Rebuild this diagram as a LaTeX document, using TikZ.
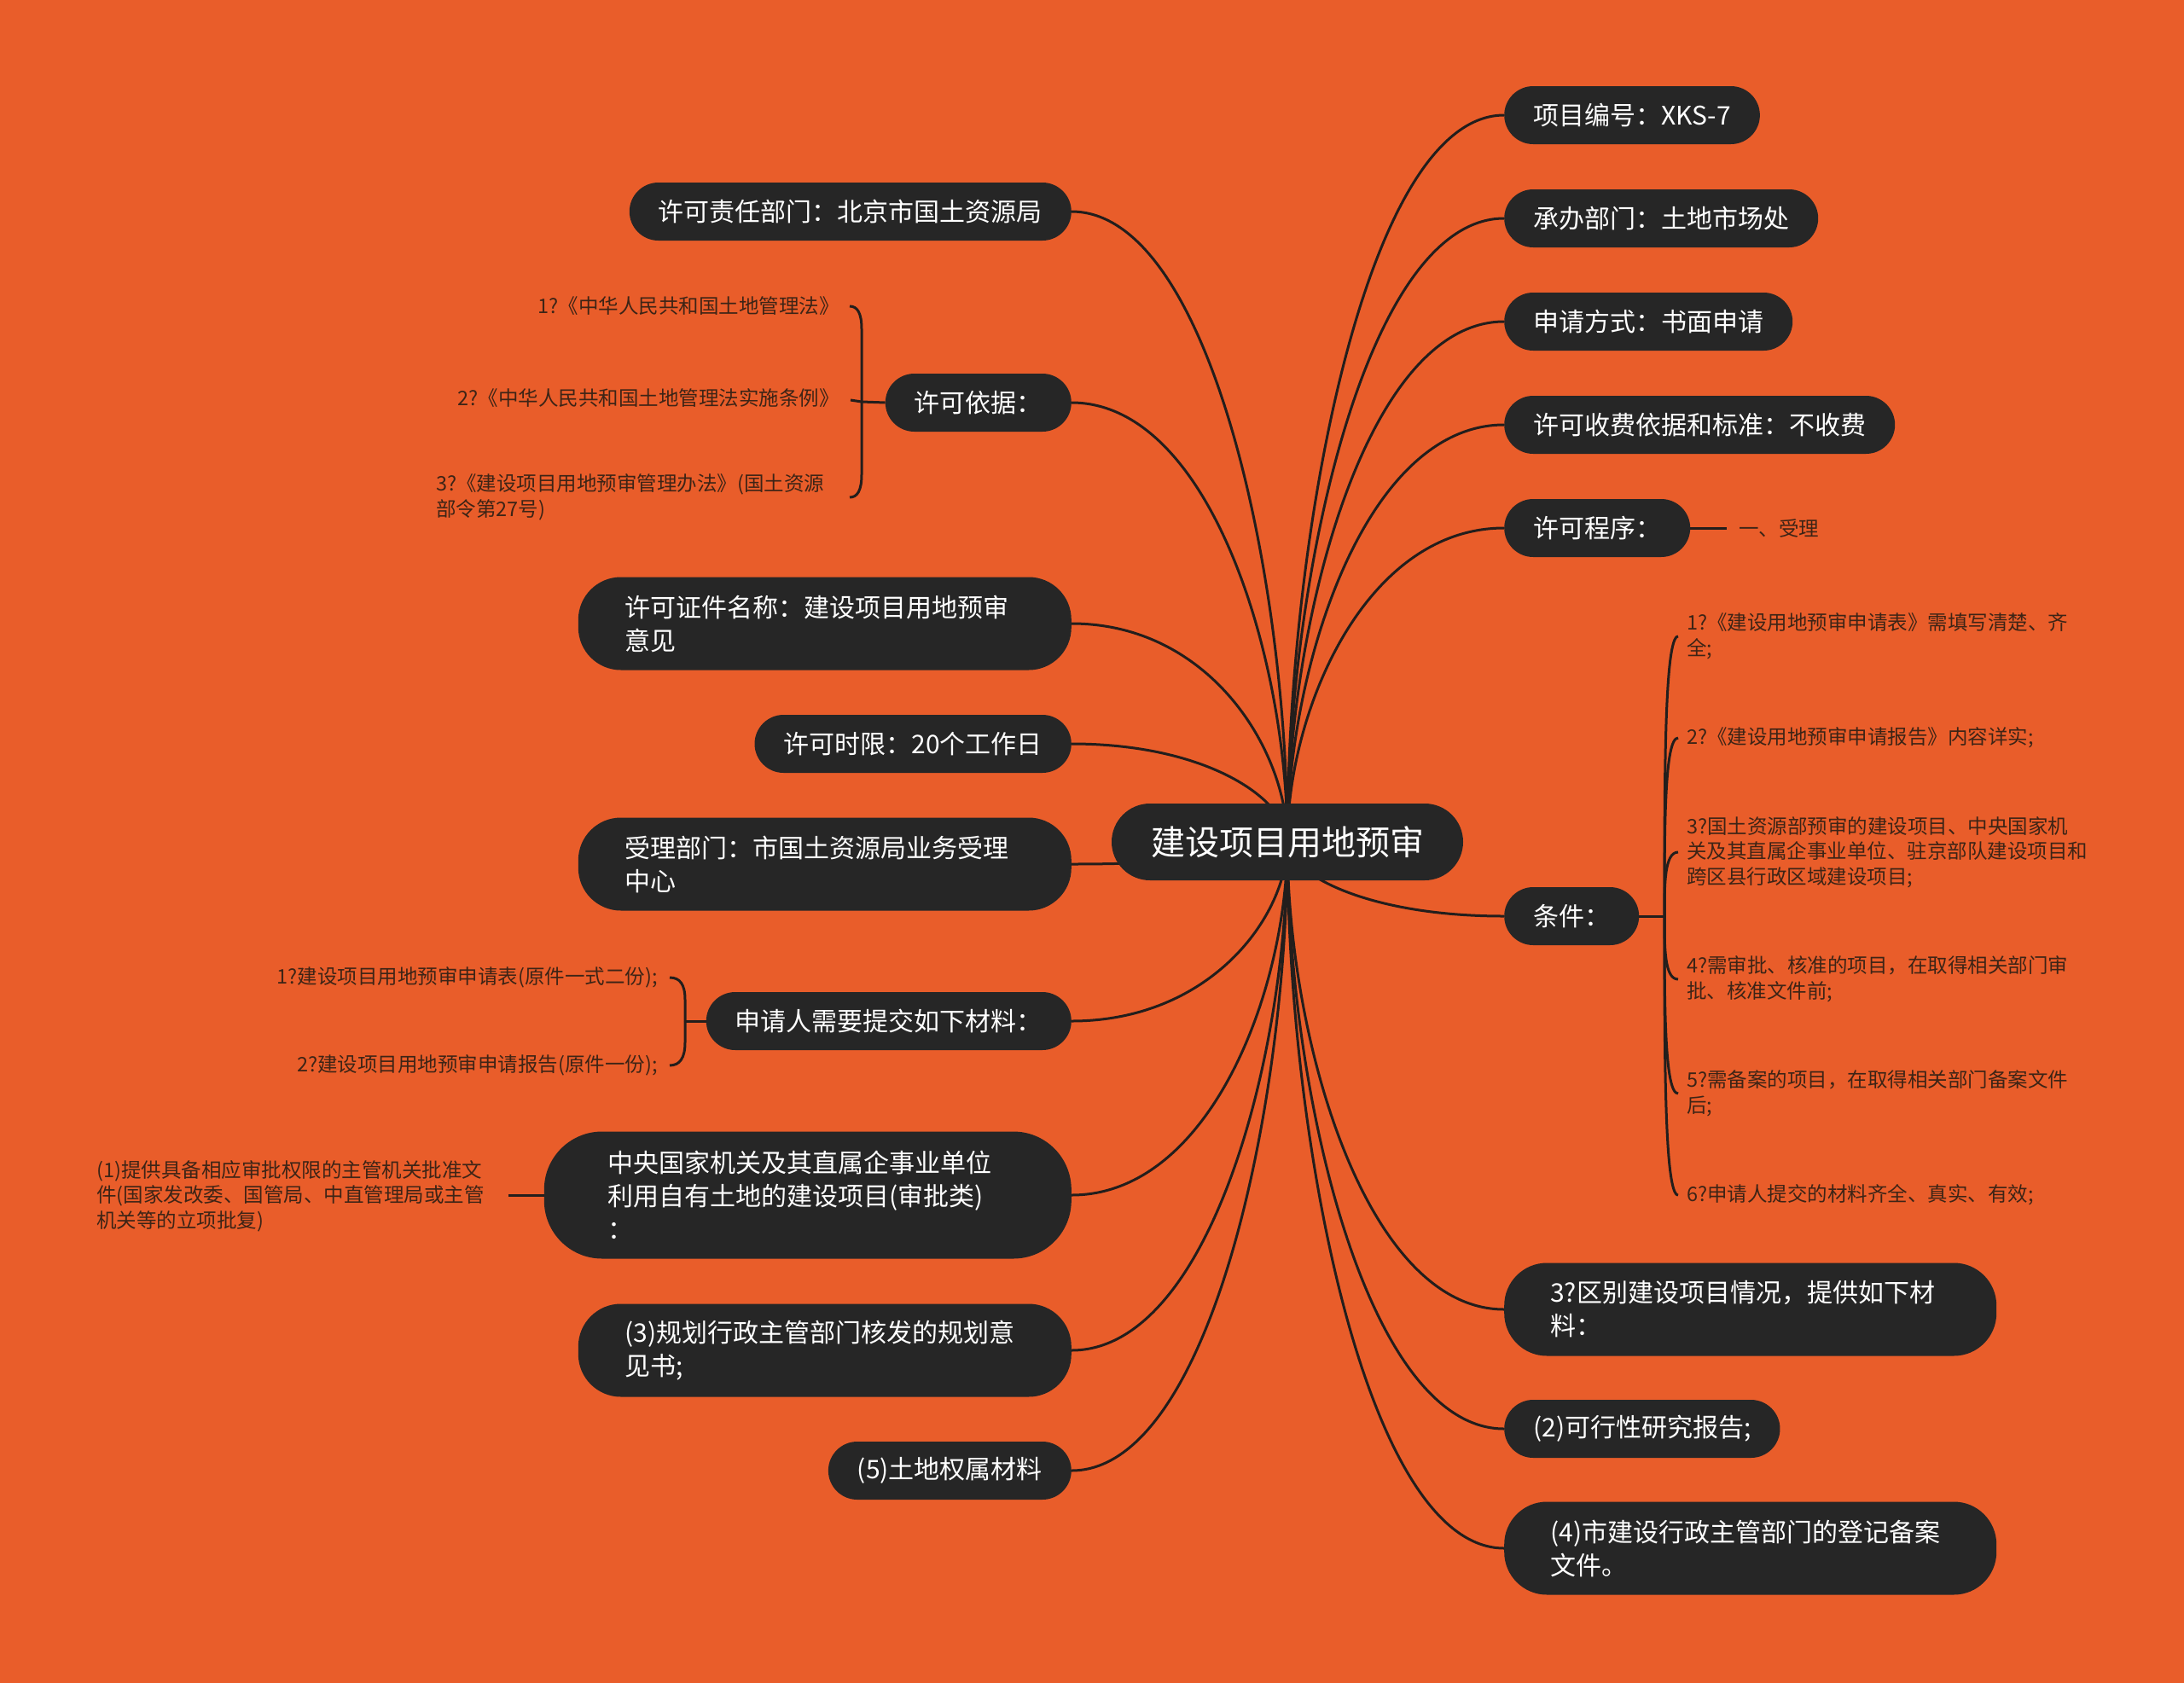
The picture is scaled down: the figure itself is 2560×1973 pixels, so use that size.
\documentclass[tikz,border=0pt]{standalone}
\usepackage{fontspec}
\setmainfont{Noto Sans CJK SC}
\usetikzlibrary{calc}
\definecolor{bgor}{RGB}{233,93,42}
\definecolor{nodefill}{RGB}{38,38,38}
\definecolor{linec}{RGB}{35,30,28}
\definecolor{subtxt}{RGB}{61,36,22}
\pgfdeclarelayer{bglayer}
\pgfdeclarelayer{edgelayer}
\pgfsetlayers{bglayer,edgelayer,main}
\tikzset{
  rootbox/.style={fill=nodefill, text=white, rounded corners=45pt, minimum height=90pt,
    inner xsep=46pt, inner ysep=0pt, font=\fontsize{40}{48}\selectfont},
  primbox/.style={fill=nodefill, text=white, rounded corners=34pt, minimum height=68pt,
    inner xsep=34pt, inner ysep=0pt, font=\fontsize{30}{39}\selectfont},
  primtwo/.style={primbox, rounded corners=50pt, minimum height=109pt, text width=468pt,
    align=left, inner xsep=55pt},
  subtext/.style={text=subtxt, inner sep=0pt, font=\fontsize{23.5}{29.5}\selectfont},
  conn/.style={draw=linec, line width=3pt},
}
\newcommand\mmcurve[2]{\draw[conn] (#1.center) .. controls ($(#1.center)!0.42!(#1.center|-#2)$) and ($(#2)!0.64!(#2-|#1.center)$) .. (#2);}
\begin{document}
\begin{tikzpicture}[x=1pt,y=-1pt]
\begin{pgfonlayer}{bglayer}
  \fill[bgor] (0,0) rectangle (2560,1973);
\end{pgfonlayer}
\useasboundingbox (0,0) rectangle (2560,1973);

% root
\node[rootbox] (root) at (1509,987) {建设项目用地预审};

% right side
\node[primbox, anchor=west] (r1) at (1763,135) {项目编号：XKS-7};
\node[primbox, anchor=west] (r2) at (1763,256) {承办部门：土地市场处};
\node[primbox, anchor=west] (r3) at (1763,377) {申请方式：书面申请};
\node[primbox, anchor=west] (r4) at (1763,498) {许可收费依据和标准：不收费};
\node[primbox, anchor=west] (r5) at (1763,619) {许可程序：};
\node[primbox, anchor=west] (r6) at (1763,1074) {条件：};
\node[primtwo, anchor=west, text width=469pt, inner xsep=54pt] (r7) at (1763,1535) {3?区别建设项目情况，提供如下材\\料：};
\node[primbox, anchor=west] (r8) at (1763,1675) {(2)可行性研究报告;};
\node[primtwo, anchor=west, text width=469pt, inner xsep=54pt] (r9) at (1763,1815) {(4)市建设行政主管部门的登记备案\\文件。};

% left side
\node[primbox, anchor=east] (l1) at (1256,248) {许可责任部门：北京市国土资源局};
\node[primbox, anchor=east] (l2) at (1256,472) {许可依据：};
\node[primtwo, anchor=east] (l3) at (1256,731) {许可证件名称：建设项目用地预审\\意见};
\node[primbox, anchor=east] (l4) at (1256,872) {许可时限：20个工作日};
\node[primtwo, anchor=east] (l5) at (1256,1013) {受理部门：市国土资源局业务受理\\中心};
\node[primbox, anchor=east] (l6) at (1256,1197) {申请人需要提交如下材料：};
\node[primtwo, anchor=east, inner xsep=75pt, minimum height=149pt, rounded corners=68pt] (l7) at (1256,1401) {中央国家机关及其直属企事业单位\\利用自有土地的建设项目(审批类)\\：};
\node[primtwo, anchor=east] (l8) at (1256,1583) {(3)规划行政主管部门核发的规划意\\见书;};
\node[primbox, anchor=east] (l9) at (1256,1724) {(5)土地权属材料};

% sub items of 许可依据
\node[subtext, anchor=east] (k1) at (984,359) {1?《中华人民共和国土地管理法》};
\node[subtext, anchor=east] (k2) at (984,467) {2?《中华人民共和国土地管理法实施条例》};
\node[subtext, anchor=west, align=left] (k3) at (511,583) {3?《建设项目用地预审管理办法》(国土资源\\部令第27号)};

% sub items of 申请人需要提交如下材料
\node[subtext, anchor=east] (s1) at (771,1146) {1?建设项目用地预审申请表(原件一式二份);};
\node[subtext, anchor=east] (s2) at (771,1249) {2?建设项目用地预审申请报告(原件一份);};

% sub item of 中央国家机关...
\node[subtext, anchor=west, align=left] (g1) at (113,1402) {(1)提供具备相应审批权限的主管机关批准文\\件(国家发改委、国管局、中直管理局或主管\\机关等的立项批复)};

% sub item of 许可程序
\node[subtext, anchor=west] (p1) at (2038,619) {一、受理};

% sub items of 条件
\node[subtext, anchor=west, align=left] (t1) at (1977,746) {1?《建设用地预审申请表》需填写清楚、齐\\全;};
\node[subtext, anchor=west, align=left] (t2) at (1977,865) {2?《建设用地预审申请报告》内容详实;};
\node[subtext, anchor=west, align=left] (t3) at (1977,999) {3?国土资源部预审的建设项目、中央国家机\\关及其直属企事业单位、驻京部队建设项目和\\跨区县行政区域建设项目;};
\node[subtext, anchor=west, align=left] (t4) at (1977,1148) {4?需审批、核准的项目，在取得相关部门审\\批、核准文件前;};
\node[subtext, anchor=west, align=left] (t5) at (1977,1282) {5?需备案的项目，在取得相关部门备案文件\\后;};
\node[subtext, anchor=west, align=left] (t6) at (1977,1401) {6?申请人提交的材料齐全、真实、有效;};

% junction coordinates
\coordinate (kb) at (1010,471);
\coordinate (k2c) at (997,469);
\coordinate (sb) at (803,1197);
\coordinate (tb) at (1951,1074);
\coordinate (g1c) at (596,1401);
\coordinate (p1c) at (2024,619);

\begin{pgfonlayer}{edgelayer}
  \foreach \n in {r1,r2,r3,r4,r5,r6,r7,r8,r9}{\mmcurve{root}{\n.west}}
  \foreach \n in {l1,l2,l3,l4,l5,l6,l7,l8,l9}{\mmcurve{root}{\n.east}}
\end{pgfonlayer}

% bracket of 许可依据
\draw[conn] (l2.west) -- (kb) -- (k2c);
\draw[conn] (kb) -- (1010,386) .. controls (1010,367) and (1005,359) .. (996,359);
\draw[conn] (kb) -- (1010,556) .. controls (1010,575) and (1005,583) .. (996,583);

% bracket of 申请人需要提交如下材料
\draw[conn] (l6.west) -- (sb);
\draw[conn] (sb) -- (803,1172) .. controls (803,1154) and (797,1146) .. (785,1146);
\draw[conn] (sb) -- (803,1222) .. controls (803,1240) and (797,1249) .. (785,1249);

% bracket of 条件
\draw[conn] (r6.east) -- (tb);
\foreach \cy in {746,865,999,1148,1282,1401}{
  \draw[conn] (tb) .. controls (1951,{(1074+\cy)/2}) and (1951,\cy) .. (1967,\cy);
}

% single lines
\draw[conn] (r5.east) -- (p1c);
\draw[conn] (g1c) -- (l7.west);
\end{tikzpicture}
\end{document}
